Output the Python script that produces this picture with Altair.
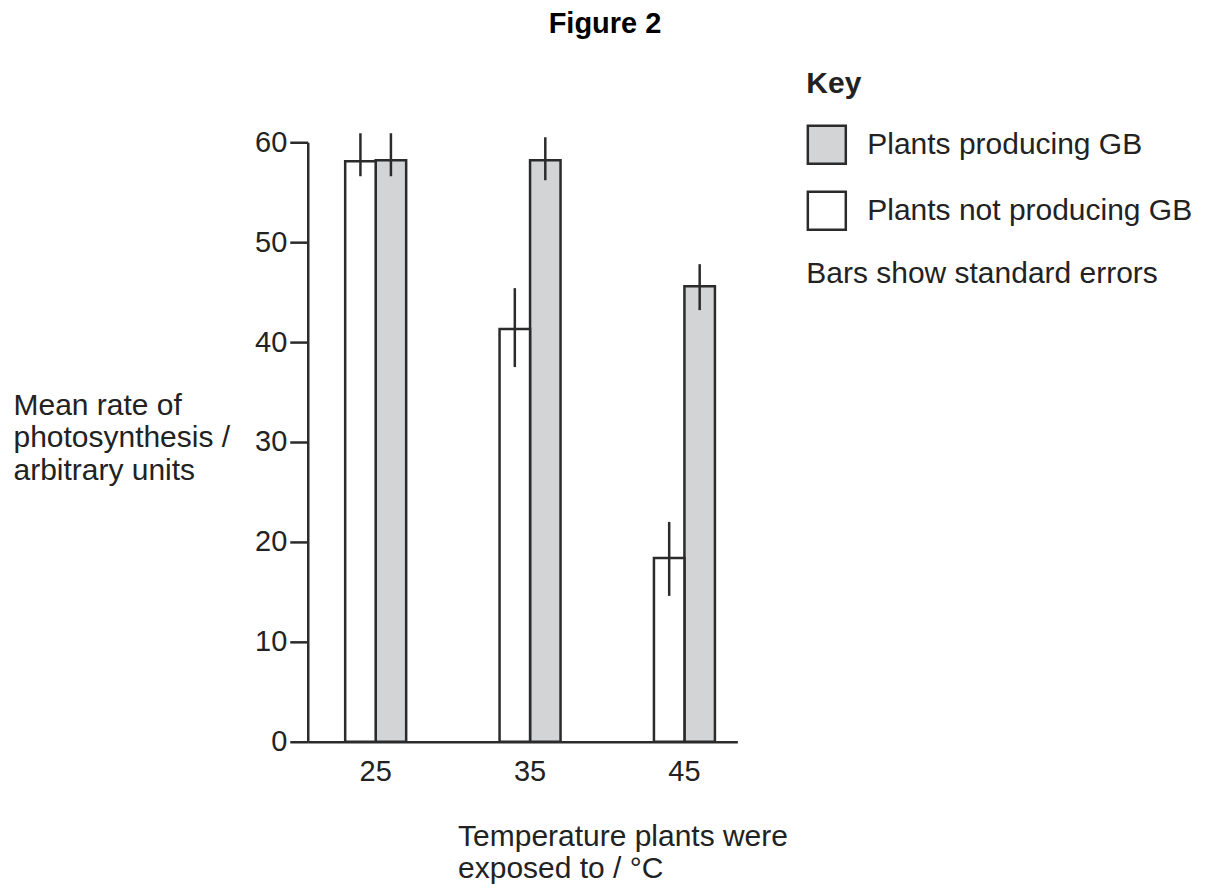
import altair as alt
import pandas as pd

FONT = "Liberation Sans"
INK = "#2b2b2b"
TXT = "#222222"

temps = ["25", "35", "45"]
groups = ["Plants producing GB", "Plants not producing GB"]
gb_mean = [58.2, 58.2, 45.6]
gb_lo = [56.6, 56.2, 43.2]
gb_hi = [60.9, 60.5, 47.8]
no_mean = [58.1, 41.3, 18.4]
no_lo = [56.6, 37.5, 14.6]
no_hi = [60.9, 45.4, 22.0]
note_text = ["Bars show standard errors"]
y_title = ["Mean rate of", "photosynthesis /", "arbitrary units"]
x_title = ["Temperature plants were", "exposed to / °C"]

rows = []
for i, t in enumerate(temps):
    rows.append({"temp": t, "group": groups[0], "mean": gb_mean[i], "lo": gb_lo[i], "hi": gb_hi[i]})
    rows.append({"temp": t, "group": groups[1], "mean": no_mean[i], "lo": no_lo[i], "hi": no_hi[i]})
df = pd.DataFrame(rows)

x_enc = alt.X(
    "temp:N",
    sort=temps,
    scale=alt.Scale(paddingInner=0.605, paddingOuter=0.194, align=0.625),
    axis=alt.Axis(
        title=x_title, labelAngle=0, ticks=False, tickSize=0,
        labelFontSize=29, labelFont=FONT, labelColor=TXT,
        labelBaseline="alphabetic", labelPadding=39,
        domainColor=INK, domainWidth=2.5,
        titleFont=FONT, titleFontSize=30, titleFontWeight="normal", titleColor=TXT,
        titleAlign="left", titleAnchor="start", titleBaseline="alphabetic",
        titleX=150, titleY=104, titleLineHeight=32,
    ),
)
xoff_enc = alt.XOffset("group:N", scale=alt.Scale(domain=[groups[1], groups[0]], paddingInner=0, paddingOuter=0))

bars = alt.Chart(df).mark_bar(stroke=INK, strokeWidth=2.5, opacity=1).encode(
    x=x_enc,
    xOffset=xoff_enc,
    y=alt.Y(
        "mean:Q",
        scale=alt.Scale(domain=[0, 60], nice=False),
        axis=alt.Axis(
            title=y_title, values=[0, 10, 20, 30, 40, 50, 60], grid=False,
            tickSize=18, tickWidth=2.5, tickColor=INK, labelPadding=3,
            labelFontSize=29, labelFont=FONT, labelColor=TXT,
            domainColor=INK, domainWidth=2.5,
            titleFont=FONT, titleFontSize=30, titleFontWeight="normal", titleColor=TXT,
            titleAngle=0, titleAlign="left", titleBaseline="alphabetic",
            titleX=-295, titleY=272, titleLineHeight=33,
        ),
    ),
    fill=alt.Fill(
        "group:N",
        scale=alt.Scale(domain=groups, range=["#d3d4d6", "#ffffff"]),
        legend=alt.Legend(
            title="Key", orient="none", legendX=499, legendY=-73,
            symbolType="square", symbolSize=1444, symbolStrokeColor=INK, symbolStrokeWidth=2.5,
            symbolOpacity=1,
            labelFontSize=30, labelFont=FONT, labelColor=TXT, labelOffset=20, labelLimit=400,
            rowPadding=17,
            titleFontSize=30, titleFont=FONT, titleFontWeight="bold", titleColor=TXT, titlePadding=25,
        ),
    ),
)

errs = alt.Chart(df).mark_rule(color=INK, strokeWidth=2.5).encode(
    x=alt.X("temp:N", sort=temps),
    xOffset=alt.XOffset("group:N"),
    y="lo:Q",
    y2="hi:Q",
)

note = alt.Chart(pd.DataFrame({"t": note_text})).mark_text(
    align="left", baseline="alphabetic", fontSize=30, font=FONT, color=TXT
).encode(x=alt.value(499), y=alt.value(141), text="t:N")

chart = alt.layer(bars, errs, note).properties(
    width=430, height=600,
    title=alt.TitleParams("Figure 2", anchor="middle", frame="bounds", fontSize=29,
                          fontWeight="bold", font=FONT, color="black", offset=30, dx=2),
    padding={"left": 5, "top": 2, "right": 5, "bottom": 5},
).configure_view(stroke=None)

chart.save("out.html", embed_options={"renderer": "svg", "actions": False})
